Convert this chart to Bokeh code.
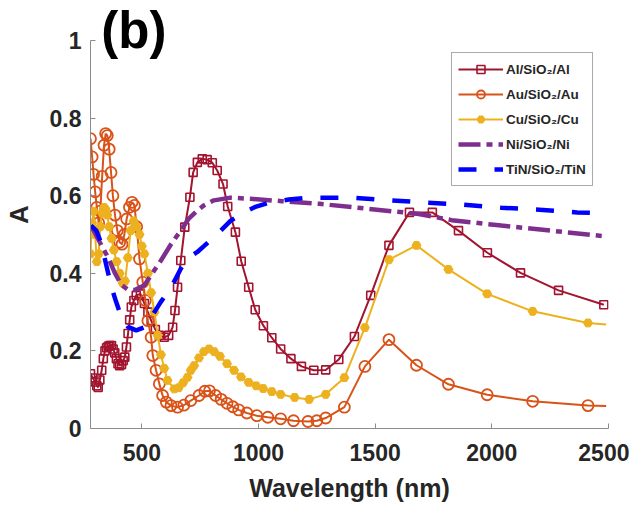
from bokeh.plotting import figure
from bokeh.models import FixedTicker, Legend, LegendItem, Label, Range1d
from bokeh.embed import file_html
from bokeh.resources import INLINE

# ---- data ----
al_wl = [280, 290, 300, 307, 313, 320, 328, 335, 342, 349, 356, 363, 370, 377, 384, 391, 398,
         405, 413, 420, 427, 434, 441, 448, 455, 466, 476, 494, 511,
         526, 540, 558, 575, 596, 615, 632, 642, 653, 667, 684, 706, 720, 738, 759, 780, 802,
         823, 848, 868, 901, 926, 958, 986, 1021, 1057, 1095, 1139, 1184, 1237, 1288, 1344,
         1411, 1481, 1559, 1647, 1745, 1857, 1981, 2123, 2286, 2480]
al_a = [0.141, 0.13, 0.12, 0.11, 0.106, 0.125, 0.15, 0.18, 0.20, 0.208, 0.212, 0.214, 0.214,
        0.205, 0.195, 0.18, 0.167, 0.162, 0.165, 0.175, 0.184, 0.21, 0.245, 0.28, 0.313,
        0.33, 0.343, 0.347, 0.322, 0.30, 0.278, 0.255, 0.24, 0.235, 0.24, 0.261, 0.304, 0.364,
        0.433, 0.519, 0.596, 0.66, 0.686, 0.695, 0.693, 0.685, 0.665, 0.63, 0.572, 0.506, 0.431,
        0.364, 0.306, 0.265, 0.234, 0.205, 0.18, 0.16, 0.15, 0.151, 0.178, 0.237, 0.343, 0.472,
        0.557, 0.557, 0.51, 0.453, 0.401, 0.356, 0.319]

au_wl = [280, 287, 293, 300, 307, 315, 322, 330, 338, 345, 352, 360, 368, 376, 385, 395, 405,
         415, 425, 435, 447, 458, 468, 478, 490, 504, 515, 526, 540, 547, 561, 575, 589, 605,
         625, 653, 680, 710, 745, 770, 790, 816, 840, 865, 890, 915, 950, 993, 1040, 1095,
         1150, 1212, 1250, 1288, 1368, 1456, 1559, 1677, 1814, 1980, 2175, 2412, 2490]
au_a = [0.747, 0.70, 0.655, 0.61, 0.57, 0.53, 0.56, 0.65, 0.73, 0.76, 0.755, 0.72, 0.66, 0.60,
        0.55, 0.51, 0.48, 0.475, 0.50, 0.54, 0.57, 0.583, 0.575, 0.52, 0.437, 0.377, 0.33,
        0.278, 0.235, 0.188, 0.15, 0.115, 0.085, 0.068, 0.059, 0.055, 0.06, 0.072, 0.085,
        0.096, 0.097, 0.085, 0.075, 0.065, 0.056, 0.048, 0.04, 0.033, 0.029, 0.025, 0.02,
        0.018, 0.02, 0.027, 0.055, 0.16, 0.229, 0.163, 0.114, 0.087, 0.07, 0.059, 0.058]

cu_wl = [280, 287, 293, 300, 307, 315, 322, 330, 338, 345, 352, 360, 370, 380, 392, 405, 418,
         428, 440, 452, 465, 478, 490, 500, 511, 526, 540, 554, 568, 582, 596, 610, 639, 658,
         677, 696, 710, 724, 745, 766, 788, 810, 835, 865, 895, 925, 958, 990, 1020, 1057,
         1095, 1155, 1217, 1288, 1368, 1456, 1559, 1677, 1814, 1980, 2175, 2412, 2490]
cu_a = [0.45, 0.53, 0.56, 0.50, 0.43, 0.45, 0.52, 0.555, 0.57, 0.565, 0.55, 0.52, 0.49, 0.46,
        0.43, 0.40, 0.375, 0.38, 0.44, 0.51, 0.535, 0.52, 0.50, 0.47, 0.45, 0.40, 0.35, 0.30,
        0.24, 0.19, 0.155, 0.124, 0.102, 0.105, 0.118, 0.132, 0.15, 0.162, 0.182, 0.198,
        0.205, 0.198, 0.186, 0.167, 0.15, 0.133, 0.119, 0.11, 0.103, 0.095, 0.088, 0.08,
        0.075, 0.088, 0.131, 0.26, 0.435, 0.472, 0.41, 0.347, 0.302, 0.272, 0.268]

ni_wl = [282, 320, 356, 385, 412, 440, 469, 511, 545, 582, 625, 667, 700, 738, 766, 809, 880,
         965, 1100, 1262, 1474, 1687, 1828, 2041, 2253, 2490]
ni_a = [0.523, 0.48, 0.44, 0.40, 0.37, 0.358, 0.357, 0.369, 0.40, 0.433, 0.475, 0.51, 0.54,
        0.562, 0.575, 0.588, 0.595, 0.592, 0.586, 0.579, 0.566, 0.553, 0.537, 0.523, 0.51, 0.495]

tin_wl = [282, 305, 327, 348, 370, 388, 405, 422, 441, 476, 511, 530, 554, 580, 610, 640, 667,
          700, 738, 766, 816, 880, 936, 990, 1050, 1130, 1220, 1403, 1545, 1720, 1878, 2041,
          2203, 2366, 2490]
tin_a = [0.523, 0.51, 0.476, 0.42, 0.364, 0.33, 0.30, 0.278, 0.262, 0.253, 0.261, 0.275, 0.30,
         0.325, 0.351, 0.38, 0.412, 0.44, 0.455, 0.47, 0.497, 0.535, 0.557, 0.572, 0.583, 0.59,
         0.595, 0.595, 0.589, 0.582, 0.577, 0.569, 0.564, 0.557, 0.555]

labels = ["Al/SiO\u2082/Al", "Au/SiO\u2082/Au", "Cu/SiO\u2082/Cu", "Ni/SiO\u2082/Ni", "TiN/SiO\u2082/TiN"]
x_ticks = [500, 1000, 1500, 2000, 2500]
y_ticks = [0, 0.2, 0.4, 0.6, 0.8, 1]

FONT = "Liberation Sans"
C_AL, C_AU, C_CU, C_NI, C_TIN = "#A2142F", "#D95319", "#EDB120", "#7E2F8E", "#0000FF"

# frame extends above A=1 so the panel tag is not clipped; axis line bounded to [0, 1]
p = figure(width=629, height=505, output_backend="svg", toolbar_location=None,
           x_range=Range1d(280, 2500), y_range=Range1d(0, 1.1031),
           min_border_left=86, min_border_right=21, min_border_top=0, min_border_bottom=77)
p.background_fill_color = "white"
p.border_fill_color = "white"
p.outline_line_color = None
p.grid.visible = False

for ax in (p.xaxis[0], p.yaxis[0]):
    ax.axis_line_color = "#8c8c8c"
    ax.axis_line_width = 1
    ax.major_tick_line_color = "#8c8c8c"
    ax.major_tick_in = 5
    ax.major_tick_out = 0
    ax.minor_tick_line_color = None
    ax.major_label_text_font = FONT
    ax.major_label_text_font_style = "bold"
    ax.major_label_text_font_size = "23px"
    ax.major_label_text_color = "#262626"
    ax.axis_label_text_font = FONT
    ax.axis_label_text_font_style = "bold"
    ax.axis_label_text_color = "#262626"

p.yaxis.bounds = (0, 1)
p.xaxis.ticker = FixedTicker(ticks=x_ticks)
p.yaxis.ticker = FixedTicker(ticks=y_ticks)
p.yaxis.major_label_overrides = {0: "0", 1: "1"}
p.xaxis.axis_label = "Wavelength (nm)"
p.yaxis.axis_label = "A"
p.xaxis.axis_label_text_font_size = "25px"
p.yaxis.axis_label_text_font_size = "26px"
p.xaxis.major_label_standoff = 15
p.yaxis.major_label_standoff = 9
p.xaxis.axis_label_standoff = 10
p.yaxis.axis_label_standoff = 13

# series
al_l = p.line(al_wl, al_a, line_color=C_AL, line_width=2)
al_m = p.scatter(al_wl, al_a, marker="square", size=8, fill_color=None,
                 line_color=C_AL, line_width=1.6)

au_l = p.line(au_wl, au_a, line_color=C_AU, line_width=2)
au_m = p.scatter(au_wl[:-1], au_a[:-1], marker="circle", size=11, fill_color=None,
                 line_color=C_AU, line_width=1.8)

cu_l = p.line(cu_wl, cu_a, line_color=C_CU, line_width=2)
cu_m = p.scatter(cu_wl[:-1], cu_a[:-1], marker="hex", size=9, fill_color=C_CU,
                 line_color=C_CU, line_width=1)

ni_l = p.line(ni_wl, ni_a, line_color=C_NI, line_width=4.5, line_dash="22 6 6 6")
tin_l = p.line(tin_wl, tin_a, line_color=C_TIN, line_width=4.5, line_dash="18 18")

legend = Legend(items=[
    LegendItem(label=labels[0], renderers=[al_l, al_m]),
    LegendItem(label=labels[1], renderers=[au_l, au_m]),
    LegendItem(label=labels[2], renderers=[cu_l, cu_m]),
    LegendItem(label=labels[3], renderers=[ni_l]),
    LegendItem(label=labels[4], renderers=[tin_l]),
], location=(361, 242))
legend.margin = 0
legend.padding = 6
legend.spacing = 5
legend.glyph_width = 45
legend.glyph_height = 20
legend.label_height = 20
legend.label_standoff = 3
legend.label_text_font = FONT
legend.label_text_font_style = "bold"
legend.label_text_font_size = "13.5px"
legend.label_text_color = "#262626"
legend.border_line_color = "#555555"
legend.border_line_width = 1
legend.background_fill_color = "white"
legend.background_fill_alpha = 1
p.add_layout(legend)

p.add_layout(Label(x=466, y=1.0245, text="(b)", text_font=FONT, text_font_style="bold",
                   text_font_size="51px", text_align="center", text_baseline="middle",
                   text_color="black"))

open("out.html", "w").write(file_html(p, INLINE))
